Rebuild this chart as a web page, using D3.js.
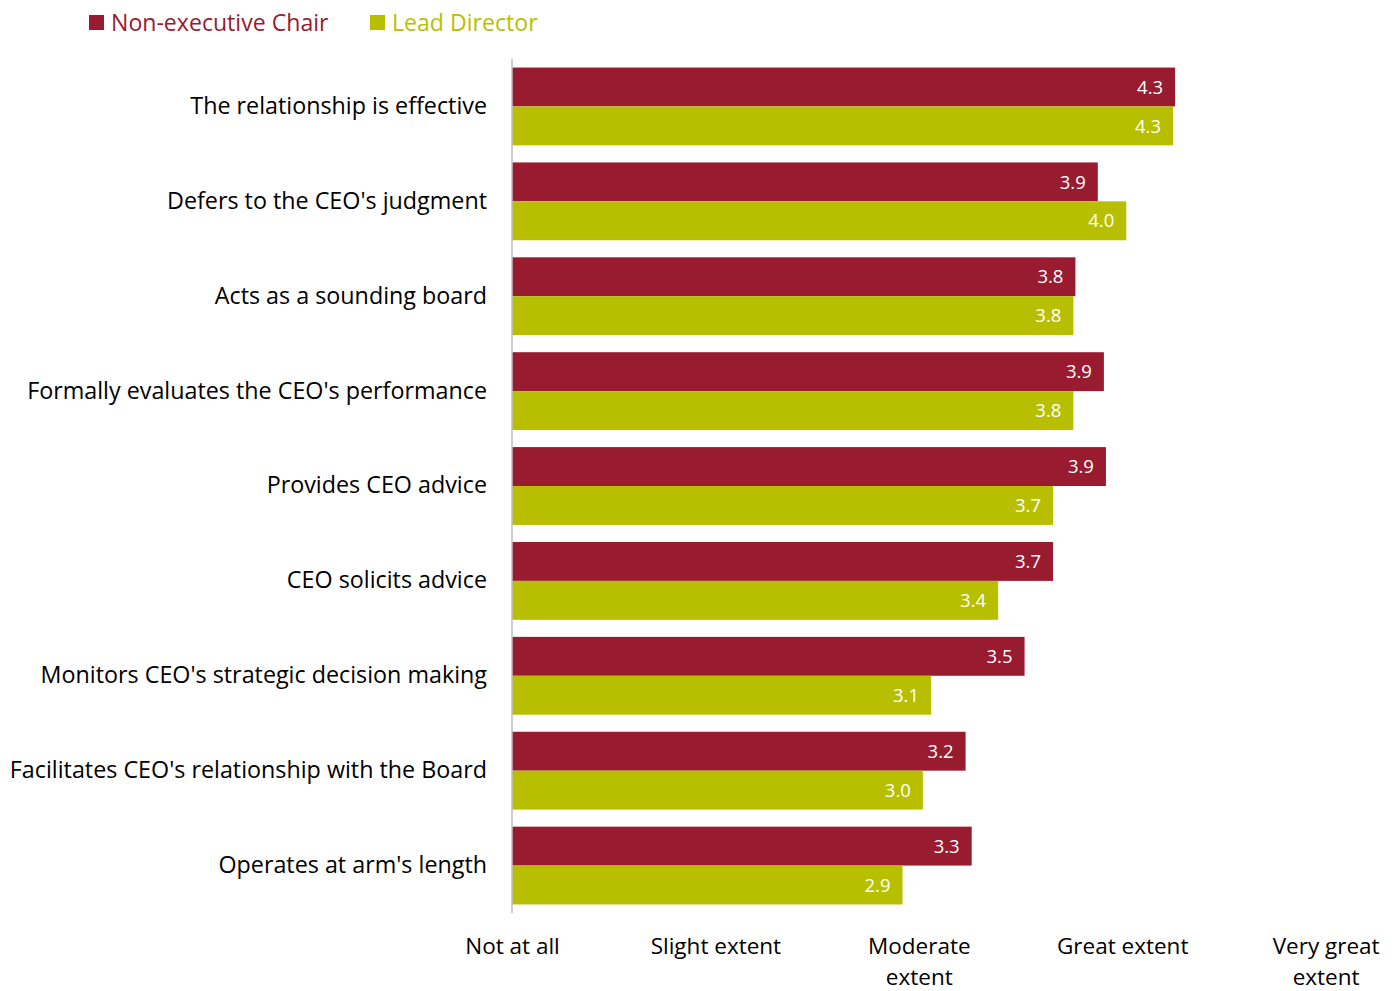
<!DOCTYPE html>
<html>
<head>
<meta charset="utf-8">
<script src="https://cdn.jsdelivr.net/npm/d3@7"></script>
<style>
  html, body { margin: 0; padding: 0; background: #ffffff; }
  svg { display: block; font-family: "Open Sans", "Lato", sans-serif; }
</style>
</head>
<body>
<svg id="chart" width="1396" height="991"></svg>
<script>
// ---- Data ----
const categories = [
  "The relationship is effective",
  "Defers to the CEO's judgment",
  "Acts as a sounding board",
  "Formally evaluates the CEO's performance",
  "Provides CEO advice",
  "CEO solicits advice",
  "Monitors CEO's strategic decision making",
  "Facilitates CEO's relationship with the Board",
  "Operates at arm's length"
];
const seriesNames = ["Non-executive Chair", "Lead Director"];
const nonExecutiveChair = [4.26, 3.88, 3.77, 3.91, 3.92, 3.66, 3.52, 3.23, 3.26];
const leadDirector      = [4.25, 4.02, 3.76, 3.76, 3.66, 3.39, 3.06, 3.02, 2.92];
const tickValues = [1, 2, 3, 4, 5];
const tickLabelLines = [["Not at all"], ["Slight extent"], ["Moderate", "extent"], ["Great extent"], ["Very great", "extent"]];
const colors = ["#981B30", "#B8BF00"];

// ---- Layout ----
const svg = d3.select("#chart");
const plotLeft = 512, plotRight = 1325.6, plotTop = 59, plotBottom = 913;

const x = d3.scaleLinear().domain([1, 5]).range([plotLeft, plotRight]);
const y = d3.scaleBand().domain(categories).range([plotTop, plotBottom]).paddingInner(0.18).paddingOuter(0.09);
const ySub = d3.scaleBand().domain(seriesNames).range([0, y.bandwidth()]);

const rows = categories.map((c, i) => ({
  category: c,
  values: [
    { series: seriesNames[0], value: nonExecutiveChair[i], color: colors[0] },
    { series: seriesNames[1], value: leadDirector[i], color: colors[1] }
  ]
}));

// Bars
const groups = svg.append("g").selectAll("g.row")
  .data(rows).join("g")
  .attr("class", "row")
  .attr("transform", d => `translate(0,${y(d.category)})`);

groups.selectAll("rect")
  .data(d => d.values).join("rect")
  .attr("x", x(1))
  .attr("y", d => ySub(d.series))
  .attr("width", d => x(d.value) - x(1))
  .attr("height", ySub.bandwidth())
  .attr("fill", d => d.color);

groups.selectAll("text.val")
  .data(d => d.values).join("text")
  .attr("class", "val")
  .attr("x", d => x(d.value) - 12)
  .attr("y", d => ySub(d.series) + ySub.bandwidth() / 2)
  .attr("dy", "0.36em")
  .attr("text-anchor", "end")
  .attr("fill", "#ffffff")
  .style("font-size", "18.5px")
  .text(d => d.value.toFixed(1));

// Y axis (category labels + line)
const yAxis = d3.axisLeft(y).tickSize(0).tickPadding(25);
const gy = svg.append("g").attr("transform", `translate(${plotLeft},0)`).call(yAxis);
gy.select(".domain").remove();
gy.selectAll(".tick text")
  .style("font-family", "\"Open Sans\", sans-serif")
  .style("font-size", "23.3px")
  .attr("fill", "#000");

svg.append("line")
  .attr("x1", plotLeft).attr("x2", plotLeft)
  .attr("y1", plotTop).attr("y2", plotBottom)
  .attr("stroke", "#bfbfbf").attr("stroke-width", 1.5);

// X axis labels
const xAxis = d3.axisBottom(x).tickValues(tickValues).tickSize(0).tickFormat(() => "");
const gx = svg.append("g").attr("transform", `translate(0,${plotBottom})`).call(xAxis);
gx.select(".domain").remove();
gx.selectAll(".tick text").remove();
gx.selectAll(".tick").each(function(d, i) {
  const t = d3.select(this).append("text")
    .attr("text-anchor", "middle")
    .attr("fill", "#000")
    .style("font-family", "\"Open Sans\", sans-serif")
    .style("font-size", "22.5px");
  tickLabelLines[i].forEach((line, j) => {
    t.append("tspan").attr("x", 0).attr("y", 41 + j * 30.5).text(line);
  });
});

// Legend
const legend = svg.append("g").attr("transform", "translate(89,15)");
const legendX = [0, 281];
seriesNames.forEach((s, i) => {
  const g = legend.append("g").attr("transform", `translate(${legendX[i]},0)`);
  g.append("rect").attr("width", 15).attr("height", 15).attr("fill", colors[i]);
  g.append("text").attr("x", 22).attr("y", 8).attr("dy", "0.36em")
    .attr("fill", colors[i])
    .style("font-size", "23.1px")
    .text(s);
});
</script>
</body>
</html>
